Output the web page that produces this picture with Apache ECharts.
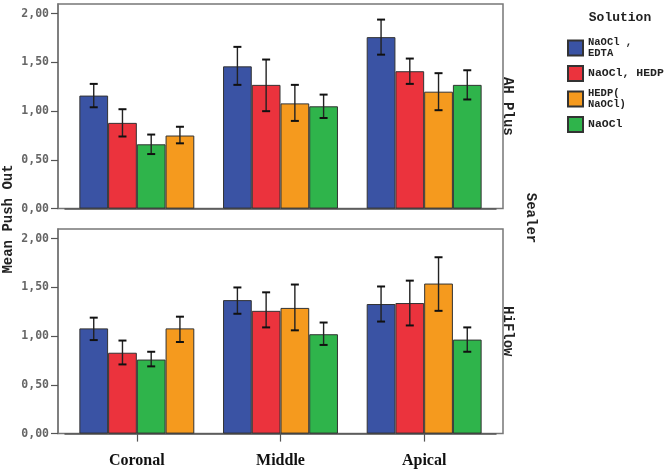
<!DOCTYPE html>
<html>
<head>
<meta charset="utf-8">
<script src="https://cdn.jsdelivr.net/npm/echarts@6/dist/echarts.min.js"></script>
<style>html,body{margin:0;padding:0;background:#fff;}#c{width:669px;height:471px;}</style>
</head>
<body>
<div id="c"></div>
<script>
// ---- data ----
const categories = ['Coronal', 'Middle', 'Apical'];
const solutions = ['NaOCl , EDTA', 'NaOCl, HEDP', 'HEDP( NaOCl)', 'NaOCl'];
const legendLabels = ['NaOCl ,\nEDTA', 'NaOCl, HEDP', 'HEDP(\nNaOCl)', 'NaOCl'];
const colors = ['#3a53a4', '#eb333d', '#f59a1e', '#2fb44b'];
const yTicks = [0, 0.5, 1, 1.5, 2];
// bar order within each category (indices into solutions)
const slotOrder = [[0, 1, 3, 2], [0, 1, 2, 3], [0, 1, 2, 3]];

// AH Plus panel: means, lower and upper error limits per solution (by category)
const ahEdtaMean = [1.16, 1.46, 1.76];
const ahEdtaLow = [1.04, 1.27, 1.58];
const ahEdtaHigh = [1.28, 1.66, 1.94];
const ahHedpMean = [0.88, 1.27, 1.41];
const ahHedpLow = [0.74, 1.00, 1.28];
const ahHedpHigh = [1.02, 1.53, 1.54];
const ahHedpNaMean = [0.75, 1.08, 1.20];
const ahHedpNaLow = [0.67, 0.90, 1.01];
const ahHedpNaHigh = [0.84, 1.27, 1.39];
const ahNaMean = [0.66, 1.05, 1.27];
const ahNaLow = [0.56, 0.93, 1.12];
const ahNaHigh = [0.76, 1.17, 1.42];

// HiFlow panel
const hfEdtaMean = [1.08, 1.37, 1.33];
const hfEdtaLow = [0.96, 1.23, 1.15];
const hfEdtaHigh = [1.19, 1.50, 1.51];
const hfHedpMean = [0.83, 1.26, 1.34];
const hfHedpLow = [0.71, 1.09, 1.11];
const hfHedpHigh = [0.955, 1.45, 1.57];
const hfHedpNaMean = [1.08, 1.29, 1.54];
const hfHedpNaLow = [0.94, 1.06, 1.26];
const hfHedpNaHigh = [1.20, 1.53, 1.81];
const hfNaMean = [0.76, 1.02, 0.965];
const hfNaLow = [0.69, 0.91, 0.84];
const hfNaHigh = [0.84, 1.14, 1.09];

const panels = [
  { name: 'AH Plus', mean: [ahEdtaMean, ahHedpMean, ahHedpNaMean, ahNaMean],
    low: [ahEdtaLow, ahHedpLow, ahHedpNaLow, ahNaLow], high: [ahEdtaHigh, ahHedpHigh, ahHedpNaHigh, ahNaHigh] },
  { name: 'HiFlow', mean: [hfEdtaMean, hfHedpMean, hfHedpNaMean, hfNaMean],
    low: [hfEdtaLow, hfHedpLow, hfHedpNaLow, hfNaLow], high: [hfEdtaHigh, hfHedpHigh, hfHedpNaHigh, hfNaHigh] }
];

// ---- layout ----
const L = { gridLeft: 65, gridWidth: 431, frameLeft: 58, frameRight: 503, tops: [4, 229], height: 204.6 };
const CATGAP = 0.2;
const NS = 4;

const chart = echarts.init(document.getElementById('c'));
const grids = [], xAxes = [], yAxes = [], series = [];
const fmt = v => v.toFixed(2).replace('.', ',');

panels.forEach((p, pi) => {
  grids.push({ left: L.gridLeft, width: L.gridWidth, top: L.tops[pi], height: L.height });
  xAxes.push({
    type: 'category', gridIndex: pi, data: categories,
    axisLine: { show: true, lineStyle: { color: '#555', width: 1.5 } },
    axisTick: { show: pi === 1, alignWithLabel: true, length: 8, lineStyle: { color: '#555', width: 1.2 } },
    axisLabel: { show: pi === 1, margin: 19, fontFamily: 'Liberation Serif', fontWeight: 'bold', fontSize: 16, color: '#111' }
  });
  yAxes.push({
    type: 'value', gridIndex: pi, min: 0, max: 2.1, offset: 7,
    axisLine: { show: true, lineStyle: { color: '#777', width: 1.5 } },
    axisTick: { show: true, length: 7, customValues: yTicks, lineStyle: { color: '#555', width: 1.2 } },
    axisLabel: { margin: 9, customValues: yTicks, formatter: fmt, fontFamily: 'DejaVu Sans Mono', fontWeight: 'bold', fontSize: 11.5, color: '#666' },
    splitLine: { show: false }
  });
  for (let s = 0; s < NS; s++) {
    series.push({
      type: 'bar', xAxisIndex: pi, yAxisIndex: pi, name: 'slot' + pi + '_' + s,
      barGap: '0%', barCategoryGap: (CATGAP * 100) + '%',
      itemStyle: { borderColor: '#333', borderWidth: 1 },
      emphasis: { disabled: true },
      data: categories.map((c, ci) => {
        const k = slotOrder[ci][s];
        return { value: p.mean[k][ci], itemStyle: { color: colors[k] } };
      }),
      z: 2
    });
  }
  const errData = [];
  categories.forEach((c, ci) => {
    for (let s = 0; s < NS; s++) {
      const k = slotOrder[ci][s];
      errData.push([ci, p.low[k][ci], p.high[k][ci], s]);
    }
  });
  series.push({
    type: 'custom', xAxisIndex: pi, yAxisIndex: pi, z: 5, silent: true,
    data: errData,
    renderItem: (params, api) => {
      const ci = api.value(0), s = api.value(3);
      const band = api.size([1, 0])[0];
      const bw = band * (1 - CATGAP) / NS;
      const lo = api.coord([ci, api.value(1)]);
      const hi = api.coord([ci, api.value(2)]);
      const x = lo[0] - band * (1 - CATGAP) / 2 + (s + 0.5) * bw;
      const cap = 4;
      return {
        type: 'group',
        children: [
          { type: 'line', shape: { x1: x, y1: lo[1], x2: x, y2: hi[1] }, style: { stroke: '#222', lineWidth: 1.4 } },
          { type: 'line', shape: { x1: x - cap, y1: lo[1], x2: x + cap, y2: lo[1] }, style: { stroke: '#111', lineWidth: 2 } },
          { type: 'line', shape: { x1: x - cap, y1: hi[1], x2: x + cap, y2: hi[1] }, style: { stroke: '#111', lineWidth: 2 } }
        ]
      };
    }
  });
});

// hidden grid for legend-only series
grids.push({ left: 0, top: 0, width: 1, height: 1, show: false });
xAxes.push({ type: 'category', gridIndex: 2, show: false, data: [''] });
yAxes.push({ type: 'value', gridIndex: 2, show: false });
solutions.forEach((n, i) => {
  series.push({ type: 'bar', name: n, xAxisIndex: 2, yAxisIndex: 2, data: [],
    itemStyle: { color: colors[i], borderColor: '#333', borderWidth: 1 } });
});

const graphics = [];
panels.forEach((p, pi) => {
  graphics.push({
    type: 'rect', z: 0, silent: true,
    shape: { x: L.frameLeft, y: L.tops[pi], width: L.frameRight - L.frameLeft, height: L.height },
    style: { fill: 'none', stroke: '#777', lineWidth: 1.5 }
  });
  graphics.push({
    type: 'text', silent: true, x: 508, y: L.tops[pi] + L.height / 2, rotation: -Math.PI / 2,
    style: { text: p.name, fontFamily: 'Liberation Mono', fontWeight: 'bold', fontSize: 14, fill: '#222', align: 'center', verticalAlign: 'middle' }
  });
});
graphics.push({
  type: 'text', silent: true, x: 531, y: 218, rotation: -Math.PI / 2,
  style: { text: 'Sealer', fontFamily: 'Liberation Mono', fontWeight: 'bold', fontSize: 14, fill: '#222', align: 'center', verticalAlign: 'middle' }
});
graphics.push({
  type: 'text', silent: true, x: 8, y: 219, rotation: Math.PI / 2,
  style: { text: 'Mean Push Out', fontFamily: 'Liberation Mono', fontWeight: 'bold', fontSize: 14, fill: '#222', align: 'center', verticalAlign: 'middle' }
});
graphics.push({
  type: 'text', silent: true, x: 620, y: 18,
  style: { text: 'Solution', fontFamily: 'Liberation Mono', fontWeight: 'bold', fontSize: 13, fill: '#222', align: 'center', verticalAlign: 'middle' }
});

chart.setOption({
  animation: false,
  grid: grids, xAxis: xAxes, yAxis: yAxes, series: series,
  graphic: graphics,
  legend: {
    orient: 'vertical', left: 562, top: 32, itemWidth: 15, itemHeight: 15, itemGap: 6,
    selectedMode: false, icon: 'rect',
    data: solutions,
    formatter: name => {
      const t = legendLabels[solutions.indexOf(name)];
      return t.indexOf('\n') >= 0 ? t.split('\n').map(l => '{s|' + l + '}').join('\n') : '{b|' + t + '}';
    },
    textStyle: {
      fontFamily: 'Liberation Mono', fontWeight: 'bold', color: '#222',
      rich: {
        s: { fontFamily: 'Liberation Mono', fontWeight: 'bold', fontSize: 10.5, lineHeight: 11, color: '#222' },
        b: { fontFamily: 'Liberation Mono', fontWeight: 'bold', fontSize: 11.5, lineHeight: 14, color: '#222' }
      }
    }
  }
});
</script>
</body>
</html>
